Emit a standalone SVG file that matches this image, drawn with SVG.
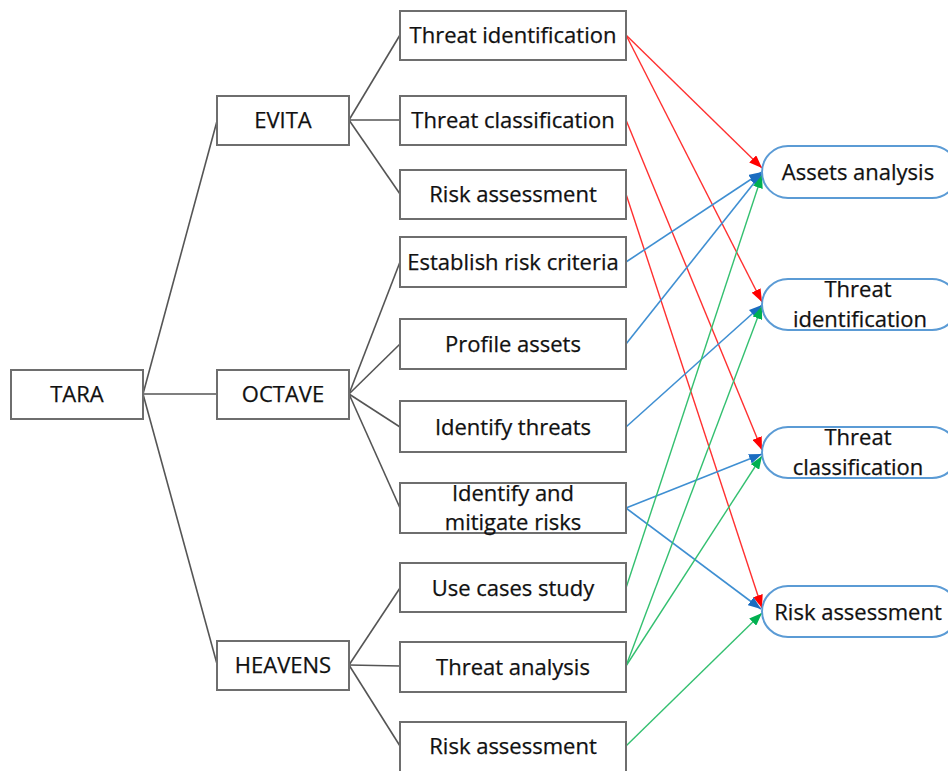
<svg xmlns="http://www.w3.org/2000/svg" width="948" height="771" viewBox="0 0 948 771">
  <style>
    .box { fill: #ffffff; stroke: #6e6e6e; stroke-width: 2; }
    .pill { fill: #ffffff; stroke: #5b9bd5; stroke-width: 2; }
    .lbl { font-family: "Open Sans", "Noto Sans", "Liberation Sans", sans-serif; font-size: 22px; fill: #111111; text-anchor: middle; stroke: #111111; stroke-width: 0.25; }
    .tree { stroke: #555555; stroke-width: 1.6; fill: none; }
    .red { stroke: #ff3030; stroke-width: 1.4; fill: none; marker-end: url(#ahRed); }
    .blue { stroke: #3f8fd2; stroke-width: 1.6; fill: none; marker-end: url(#ahBlue); }
    .green { stroke: #33c070; stroke-width: 1.4; fill: none; marker-end: url(#ahGreen); }
  </style>
  <defs>
    <marker id="ahRed" markerUnits="userSpaceOnUse" markerWidth="13" markerHeight="10" refX="13" refY="5" orient="auto">
      <path d="M0,0 L13,5 L0,10 z" fill="#ff0000"/>
    </marker>
    <marker id="ahBlue" markerUnits="userSpaceOnUse" markerWidth="13" markerHeight="10" refX="13" refY="5" orient="auto">
      <path d="M0,0 L13,5 L0,10 z" fill="#1a6cc0"/>
    </marker>
    <marker id="ahGreen" markerUnits="userSpaceOnUse" markerWidth="13" markerHeight="10" refX="13" refY="5" orient="auto">
      <path d="M0,0 L13,5 L0,10 z" fill="#00b050"/>
    </marker>
  </defs>
  <rect width="948" height="771" fill="#ffffff"/>

  <!-- connectors -->
  <g id="connectors">
    <!-- hierarchy -->
    <g id="tree-links">
      <line class="tree" x1="143" y1="394" x2="217" y2="121"/>
      <line class="tree" x1="143" y1="394" x2="217" y2="394"/>
      <line class="tree" x1="143" y1="394" x2="217" y2="664"/>
      <line class="tree" x1="349" y1="120" x2="400" y2="35"/>
      <line class="tree" x1="349" y1="120" x2="400" y2="120"/>
      <line class="tree" x1="349" y1="120" x2="400" y2="194"/>
      <line class="tree" x1="349" y1="394" x2="400" y2="262"/>
      <line class="tree" x1="349" y1="394" x2="400" y2="344"/>
      <line class="tree" x1="349" y1="394" x2="400" y2="427"/>
      <line class="tree" x1="349" y1="394" x2="400" y2="508"/>
      <line class="tree" x1="349" y1="665" x2="400" y2="588"/>
      <line class="tree" x1="349" y1="665" x2="400" y2="666"/>
      <line class="tree" x1="349" y1="665" x2="400" y2="746"/>
    </g>
    <!-- EVITA mapping -->
    <g id="evita-links">
      <line class="red" x1="626" y1="35" x2="762" y2="168"/>
      <line class="red" x1="626" y1="35" x2="762" y2="302"/>
      <line class="red" x1="626" y1="120" x2="762" y2="450"/>
      <line class="red" x1="626" y1="194" x2="762" y2="608"/>
    </g>
    <!-- OCTAVE mapping -->
    <g id="octave-links">
      <line class="blue" x1="626" y1="262" x2="762" y2="172"/>
      <line class="blue" x1="626" y1="344" x2="762" y2="173"/>
      <line class="blue" x1="626" y1="427" x2="762" y2="305"/>
      <line class="blue" x1="626" y1="508" x2="762" y2="454"/>
      <line class="blue" x1="626" y1="508" x2="761" y2="609"/>
    </g>
    <!-- HEAVENS mapping -->
    <g id="heavens-links">
      <line class="green" x1="626" y1="588" x2="762" y2="175"/>
      <line class="green" x1="626" y1="666" x2="762" y2="306"/>
      <line class="green" x1="626" y1="666" x2="762" y2="456"/>
      <line class="green" x1="626" y1="746" x2="762" y2="613"/>
    </g>
  </g>

  <!-- root and methods -->
  <g id="tara"><rect class="box" x="11" y="370" width="132" height="49"/><text class="lbl" x="77" y="402">TARA</text></g>
  <g id="evita"><rect class="box" x="217" y="96" width="132" height="49"/><text class="lbl" x="283" y="128">EVITA</text></g>
  <g id="octave"><rect class="box" x="217" y="370" width="132" height="49"/><text class="lbl" x="283" y="402">OCTAVE</text></g>
  <g id="heavens"><rect class="box" x="217" y="641" width="132" height="49"/><text class="lbl" x="283" y="673">HEAVENS</text></g>

  <!-- method steps -->
  <g id="evita-threat-identification"><rect class="box" x="400" y="11" width="226" height="49"/><text class="lbl" x="513" y="43">Threat identification</text></g>
  <g id="evita-threat-classification"><rect class="box" x="400" y="96" width="226" height="49"/><text class="lbl" x="513" y="128">Threat classification</text></g>
  <g id="evita-risk-assessment"><rect class="box" x="400" y="170" width="226" height="49"/><text class="lbl" x="513" y="202">Risk assessment</text></g>
  <g id="octave-establish-risk-criteria"><rect class="box" x="400" y="237" width="226" height="50"/><text class="lbl" x="513" y="270">Establish risk criteria</text></g>
  <g id="octave-profile-assets"><rect class="box" x="400" y="319" width="226" height="50"/><text class="lbl" x="513" y="352">Profile assets</text></g>
  <g id="octave-identify-threats"><rect class="box" x="400" y="401" width="226" height="51"/><text class="lbl" x="513" y="435">Identify threats</text></g>
  <g id="octave-identify-mitigate"><rect class="box" x="400" y="483" width="226" height="50"/><text class="lbl" x="513" y="501">Identify and</text><text class="lbl" x="513" y="530">mitigate risks</text></g>
  <g id="heavens-use-cases-study"><rect class="box" x="400" y="563" width="226" height="49"/><text class="lbl" x="513" y="596">Use cases study</text></g>
  <g id="heavens-threat-analysis"><rect class="box" x="400" y="642" width="226" height="50"/><text class="lbl" x="513" y="675">Threat analysis</text></g>
  <g id="heavens-risk-assessment"><rect class="box" x="400" y="722" width="226" height="60"/><text class="lbl" x="513" y="754">Risk assessment</text></g>

  <!-- common phases -->
  <g id="phase-assets-analysis"><rect class="pill" x="762" y="146" width="196" height="52" rx="26" ry="26"/><text class="lbl" x="858" y="180">Assets analysis</text></g>
  <g id="phase-threat-identification"><rect class="pill" x="762" y="279" width="196" height="51" rx="26" ry="26"/><text class="lbl" x="858" y="297">Threat</text><text class="lbl" x="860" y="327">identification</text></g>
  <g id="phase-threat-classification"><rect class="pill" x="762" y="427" width="196" height="51" rx="26" ry="26"/><text class="lbl" x="858" y="445">Threat</text><text class="lbl" x="858" y="475">classification</text></g>
  <g id="phase-risk-assessment"><rect class="pill" x="762" y="586" width="196" height="51" rx="26" ry="26"/><text class="lbl" x="858" y="620">Risk assessment</text></g>
</svg>
